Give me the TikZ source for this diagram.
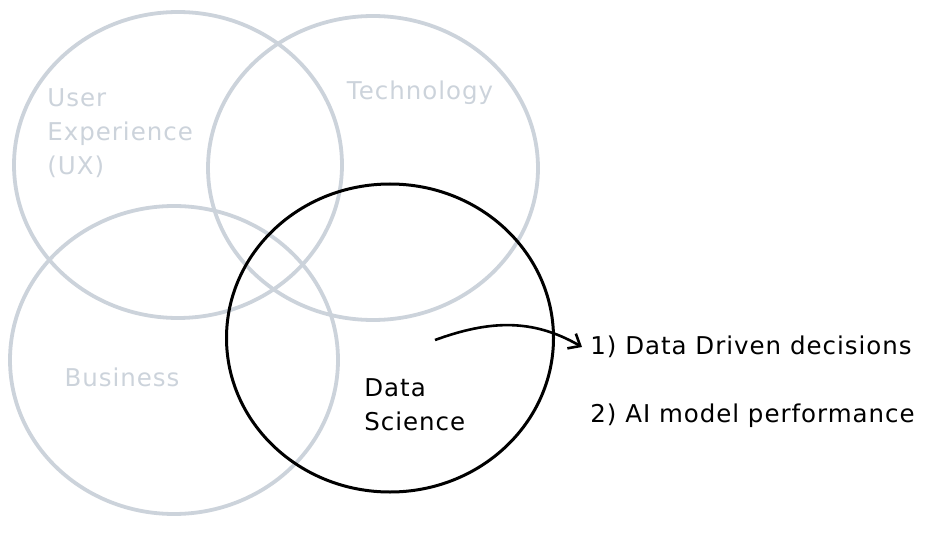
\documentclass[tikz,border=0pt]{standalone}
\usepackage{fontspec}
\setmainfont[LetterSpace=4]{DejaVu Sans}
\usepackage{tikz}
\usetikzlibrary{arrows.meta,shapes.geometric,positioning}
\definecolor{softgray}{HTML}{CCD3DB}

\begin{document}
\begin{tikzpicture}[x=1pt,y=1pt,>={Straight Barb[length=10pt,width=17pt]},
  thick,area/.style={ellipse,draw=softgray,line width=3.8pt,inner sep=0pt},
  focus/.style={ellipse,draw=black,line width=3pt,inner sep=0pt},
  grey label/.style={text=softgray,font=\fontsize{24.5}{34}\selectfont,align=left,inner sep=0pt},
  dark label/.style={text=black,font=\fontsize{24.5}{34}\selectfont,align=left,inner sep=0pt}]
	\useasboundingbox (0,0) rectangle (937,550);
					% the four areas
					\node[area,minimum width=328pt,minimum height=306pt] (UX) at (178,385) {};
					\node[area,minimum width=330pt,minimum height=304pt] (Tech) at (373,382) {};
					\node[area,minimum width=328pt,minimum height=308pt] (Biz) at (174,190) {};
					\node[focus,minimum width=327pt,minimum height=308pt] (DS) at (390,212) {};
					% labels
					\node[grey label,anchor=west] (UXtext) at (47,417) {User\\Experience\\(UX)};
					\node[grey label] (Techtext) at (420,457) {Technology};
					\node[grey label] (Biztext) at (122,173) {Business};
					\node[dark label,anchor=west] (DStext) at (364,145) {Data\\Science};
					\coordinate (DSout) at (435,210);
					\node[dark label,anchor=west] (decisions) at (590,203) {1) Data Driven decisions};
					\node[dark label,anchor=west] (perf) at (590,134) {2) AI model performance};
				\path[->,line width=2.6pt]
					(DSout) edge[out=20,in=150] ([xshift=-8pt]decisions.west);
\end{tikzpicture}
\end{document}
